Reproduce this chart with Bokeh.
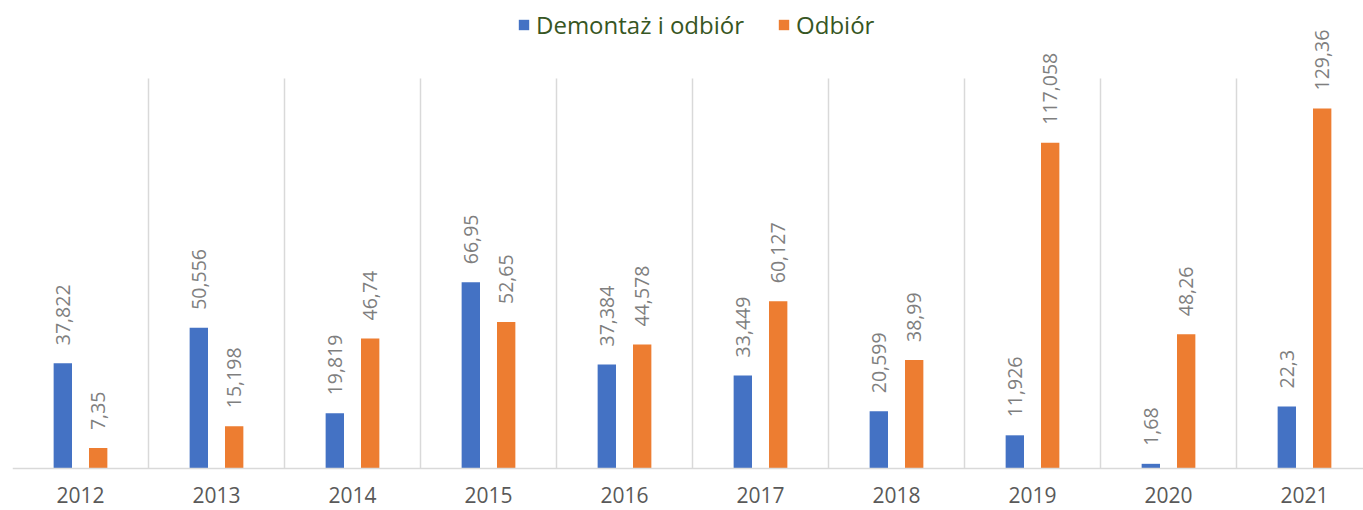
from bokeh.plotting import figure
from bokeh.models import (ColumnDataSource, Range1d, FixedTicker, LabelSet,
                          Legend, LegendItem)
from bokeh.core.properties import value
from bokeh.transform import dodge
from bokeh.embed import file_html
from bokeh.resources import INLINE

years = ["2012", "2013", "2014", "2015", "2016", "2017", "2018", "2019", "2020", "2021"]
demontaz = [37.822, 50.556, 19.819, 66.95, 37.384, 33.449, 20.599, 11.926, 1.68, 22.3]
odbior = [7.35, 15.198, 46.74, 52.65, 44.578, 60.127, 38.99, 117.058, 48.26, 129.36]
series_names = ["Demontaż i odbiór", "Odbiór"]
colors = ["#4472C4", "#ED7D31"]

def fmt(v):
    return ("%g" % v).replace(".", ",")

idx = list(range(len(years)))
src = ColumnDataSource(dict(
    x=idx, d=demontaz, o=odbior,
    dl=[fmt(v) for v in demontaz], ol=[fmt(v) for v in odbior],
))

FONT = "Open Sans"
W, H = 1363, 510
LEFT = 12
BASE = 468          # pixel row of the baseline
PPU = 2.783         # pixels per unit on the value axis
CAT = 136.0         # pixels per category
p = figure(width=W, height=H, output_backend="svg", toolbar_location=None,
           x_range=Range1d(-0.5, -0.5 + (W - LEFT) / CAT),
           y_range=Range1d(-(H - BASE) / PPU, BASE / PPU),
           min_border_left=LEFT, min_border_right=0, min_border_top=0,
           min_border_bottom=0)
p.outline_line_color = None
p.background_fill_color = "white"
p.border_fill_color = "white"

off = 0.13
bw = 0.135
r1 = p.vbar(x=dodge("x", -off, range=p.x_range), top="d", width=bw, source=src,
            fill_color=colors[0], line_color=None)
r2 = p.vbar(x=dodge("x", off, range=p.x_range), top="o", width=bw, source=src,
            fill_color=colors[1], line_color=None)

for col, lab, o in (("d", "dl", -off), ("o", "ol", off)):
    ls = LabelSet(x=dodge("x", o, range=p.x_range), y=col, text=lab, source=src,
                  angle=1.5708, text_align="left", text_baseline="middle",
                  y_offset=18, text_font=value(FONT), text_font_size="19.5px",
                  text_color="#7f7f7f")
    p.add_layout(ls)

p.yaxis.visible = False
p.ygrid.grid_line_color = None
p.xgrid.ticker = FixedTicker(ticks=[i - 0.5 for i in idx] + [9.5])
p.xgrid.grid_line_color = "#d9d9d9"
p.xgrid.grid_line_width = 1.5
p.xgrid.cross_bounds = (0, 140)

ax = p.xaxis[0]
ax.fixed_location = 0
ax.ticker = FixedTicker(ticks=idx)
ax.major_label_overrides = {i: y for i, y in zip(idx, years)}
ax.major_tick_line_color = None
ax.minor_tick_line_color = None
ax.axis_line_color = "#d9d9d9"
ax.axis_line_width = 1.5
ax.major_label_standoff = 12
ax.major_label_text_font = FONT
ax.major_label_text_font_size = "21px"
ax.major_label_text_color = "#595959"

legend = Legend(items=[LegendItem(label=series_names[0], renderers=[r1]),
                       LegendItem(label=series_names[1], renderers=[r2])],
                orientation="horizontal", location=(505, 469),
                glyph_width=13, glyph_height=13, label_standoff=6, spacing=33,
                padding=0, margin=0, border_line_color=None,
                background_fill_alpha=0,
                label_text_font=FONT, label_text_font_size="24px",
                label_text_color="#375623")
p.add_layout(legend)

open("out.html", "w").write(file_html(p, INLINE))
